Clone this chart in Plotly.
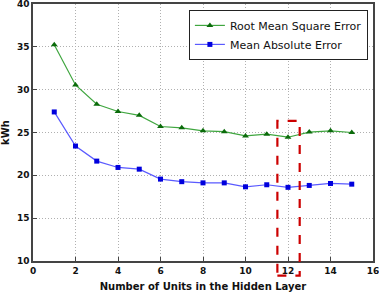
import plotly.graph_objects as go

units = list(range(1, 16))
rmse = [35.25, 30.55, 28.3, 27.45, 27.0, 25.7, 25.55, 25.2, 25.1, 24.6, 24.8, 24.45, 25.05, 25.2, 25.0]
mae = [27.4, 23.42, 21.66, 20.92, 20.72, 19.56, 19.26, 19.12, 19.12, 18.66, 18.9, 18.6, 18.82, 19.05, 18.97]
x_ticks = list(range(0, 17, 2))
y_ticks = list(range(10, 41, 5))
highlight_unit = 12
x_range = [0, 16]
y_range = [10, 40]

fig = go.Figure()
fig.add_trace(go.Scatter(
    x=units, y=rmse, mode="lines+markers", name="Root Mean Square Error",
    line=dict(color="#3fa63f", width=1.2),
    marker=dict(symbol="triangle-up", size=6, color="#0b6b0b"),
))
fig.add_trace(go.Scatter(
    x=units, y=mae, mode="lines+markers", name="Mean Absolute Error",
    line=dict(color="#5a5aff", width=1.2),
    marker=dict(symbol="square", size=5, color="#0000dd"),
))

# highlight box (in paper coordinates derived from data/axis ranges)
def px(v):
    return (v - x_range[0]) / (x_range[1] - x_range[0])
def py(v):
    return (v - y_range[0]) / (y_range[1] - y_range[0])

fig.add_shape(type="rect", xref="paper", yref="paper",
              x0=px(highlight_unit - 0.5), x1=px(highlight_unit + 0.55),
              y0=py(8.3), y1=py(26.35),
              line=dict(color="#cc0000", width=2.2, dash="dash"),
              fillcolor="rgba(0,0,0,0)", layer="above")

axis_common = dict(
    showline=True, linecolor="#444", linewidth=1.5, mirror=True,
    showgrid=True, gridcolor="#b0b0b0", griddash="1px,2px", gridwidth=1,
    ticks="inside", ticklen=4, tickcolor="#444",
    zeroline=False, automargin=False, ticklabeloverflow="allow",
    tickfont=dict(family="DejaVu Sans", size=9, color="#111", weight="bold"),
)
fig.update_xaxes(range=x_range, tickvals=x_ticks,
                 title=dict(text="<b>Number of Units in the Hidden Layer</b>",
                            font=dict(family="DejaVu Sans", size=10, color="#111"), standoff=8),
                 **axis_common)
fig.update_yaxes(range=y_range, tickvals=y_ticks,
                 title=dict(text="<b>kWh</b>",
                            font=dict(family="DejaVu Sans", size=10, color="#111"), standoff=6),
                 **axis_common)

fig.update_layout(
    width=379, height=292,
    margin=dict(l=33, r=6, t=4, b=31),
    plot_bgcolor="white", paper_bgcolor="white",
    font=dict(family="DejaVu Sans"),
    legend=dict(x=0.985, y=0.977, xanchor="right", yanchor="top",
                bgcolor="white", bordercolor="#222", borderwidth=1,
                font=dict(family="DejaVu Sans", size=11, color="#111"),
                tracegroupgap=0, itemwidth=30),
    showlegend=True,
)

fig.write_html("out.html", config={"displayModeBar": False},
               post_script="document.body.style.margin='0';document.body.style.overflow='hidden';")
